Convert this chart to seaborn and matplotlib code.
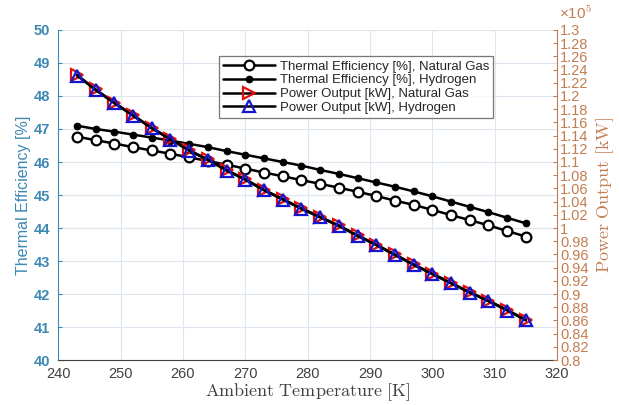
import numpy as np
import pandas as pd
import matplotlib
matplotlib.use("Agg")
import matplotlib.pyplot as plt
from matplotlib.ticker import FuncFormatter, MultipleLocator
import seaborn as sns

# Ambient temperature [K]
temp = [243, 246, 249, 252, 255, 258, 261, 264, 267, 270, 273, 276, 279,
        282, 285, 288, 291, 294, 297, 300, 303, 306, 309, 312, 315]

# Thermal efficiency [%]
eff_ng = [46.77, 46.66, 46.56, 46.45, 46.35, 46.25, 46.14, 46.03, 45.92, 45.80,
          45.68, 45.57, 45.45, 45.34, 45.22, 45.10, 44.97, 44.83, 44.70, 44.55,
          44.39, 44.24, 44.08, 43.91, 43.74]
eff_h2 = [47.10, 47.00, 46.92, 46.83, 46.74, 46.65, 46.55, 46.45, 46.33, 46.22,
          46.11, 46.00, 45.89, 45.76, 45.64, 45.51, 45.38, 45.25, 45.11, 44.96,
          44.80, 44.64, 44.48, 44.31, 44.14]

# Power output [kW]
pow_ng = [123200, 121000, 119000, 117100, 115200, 113500, 111800, 110400, 108800,
          107400, 105800, 104400, 103000, 101700, 100400, 98900, 97500, 96000,
          94500, 93100, 91700, 90300, 89000, 87600, 86100]
pow_h2 = [123100, 120900, 118900, 117000, 115100, 113400, 111700, 110300, 108700,
          107300, 105700, 104300, 102900, 101600, 100300, 98800, 97400, 95900,
          94400, 93000, 91600, 90200, 88900, 87500, 86000]

blue = "#3d88b3"
brown = "#c27d52"

sns.set_style("white")
plt.rcParams["font.family"] = ["Liberation Sans", "DejaVu Sans"]
plt.rcParams["mathtext.fontset"] = "cm"

fig = plt.figure(figsize=(6.19, 4.05), dpi=100)
ax = fig.add_axes([0.094, 0.111, 0.806, 0.815])
ax2 = ax.twinx()

df = pd.DataFrame({"T": temp, "eff_ng": eff_ng, "eff_h2": eff_h2,
                   "pow_ng": pow_ng, "pow_h2": pow_h2})

sns.lineplot(data=df, x="T", y="eff_ng", ax=ax, color="k", lw=1.8,
             marker="o", markersize=7, markerfacecolor="white",
             markeredgecolor="k", markeredgewidth=1.6,
             label="Thermal Efficiency [%], Natural Gas", legend=False)
sns.lineplot(data=df, x="T", y="eff_h2", ax=ax, color="k", lw=1.8,
             marker="o", markersize=4.8, markerfacecolor="k",
             markeredgecolor="k", label="Thermal Efficiency [%], Hydrogen",
             legend=False)
sns.lineplot(data=df, x="T", y="pow_ng", ax=ax2, color="k", lw=1.8,
             marker=">", markersize=8.5, markerfacecolor="none",
             markeredgecolor="#e01010", markeredgewidth=1.6,
             label="Power Output [kW], Natural Gas", legend=False)
sns.lineplot(data=df, x="T", y="pow_h2", ax=ax2, color="k", lw=1.8,
             marker="^", markersize=8.5, markerfacecolor="none",
             markeredgecolor="#1515d0", markeredgewidth=1.6,
             label="Power Output [kW], Hydrogen", legend=False)

ax.set_xlim(240, 320)
ax.set_ylim(40, 50)
ax2.set_ylim(80000, 130000)
ax.xaxis.set_major_locator(MultipleLocator(10))
ax.yaxis.set_major_locator(MultipleLocator(1))
ax2.yaxis.set_major_locator(MultipleLocator(2000))
ax2.yaxis.set_major_formatter(FuncFormatter(lambda v, p: f"{v / 1e5:g}"))

ax.grid(True, color="#dde6ee", lw=0.8)
ax.set_axisbelow(True)

ax.tick_params(axis="x", direction="in", length=3, colors="#404040",
               labelsize=10.5, pad=5)
ax.tick_params(axis="y", direction="in", length=3, colors=blue,
               labelsize=10.5, pad=6)
ax2.tick_params(axis="y", direction="in", length=3, colors=brown,
                labelsize=10.5, pad=2)
for lab in ax.get_yticklabels():
    lab.set_fontweight("bold")

for s in ["top", "right"]:
    ax.spines[s].set_visible(False)
ax2.spines["top"].set_visible(False)
ax2.spines["left"].set_visible(False)
ax2.spines["bottom"].set_visible(False)
ax.spines["left"].set_color(blue)
ax.spines["bottom"].set_color("#404040")
ax2.spines["right"].set_color(brown)

ax.set_xlabel(r"$\mathrm{Ambient\ Temperature\ [K]}$", fontsize=13,
              color="#404040", labelpad=0)
ax.set_ylabel("Thermal Efficiency [%]", fontsize=11.5, color=blue, labelpad=2)
ax2.set_ylabel(r"$\mathrm{Power\ Output\ [kW]}$", fontsize=13, color=brown,
               labelpad=4)
ax2.text(1.003, 1.025, "×10$^\\mathsf{5}$", transform=ax2.transAxes,
         fontsize=11, color=brown, ha="left", va="bottom")

h1, l1 = ax.get_legend_handles_labels()
h2, l2 = ax2.get_legend_handles_labels()
leg = ax2.legend(h1 + h2, l1 + l2, loc="upper right",
                 bbox_to_anchor=(0.885, 0.94), fontsize=9.5, frameon=True,
                 fancybox=False, edgecolor="#555555", borderpad=0.3,
                 labelspacing=0.12, handlelength=3.9, handletextpad=0.4)
leg.get_frame().set_linewidth(0.9)

fig.savefig("out.png", dpi=100)
